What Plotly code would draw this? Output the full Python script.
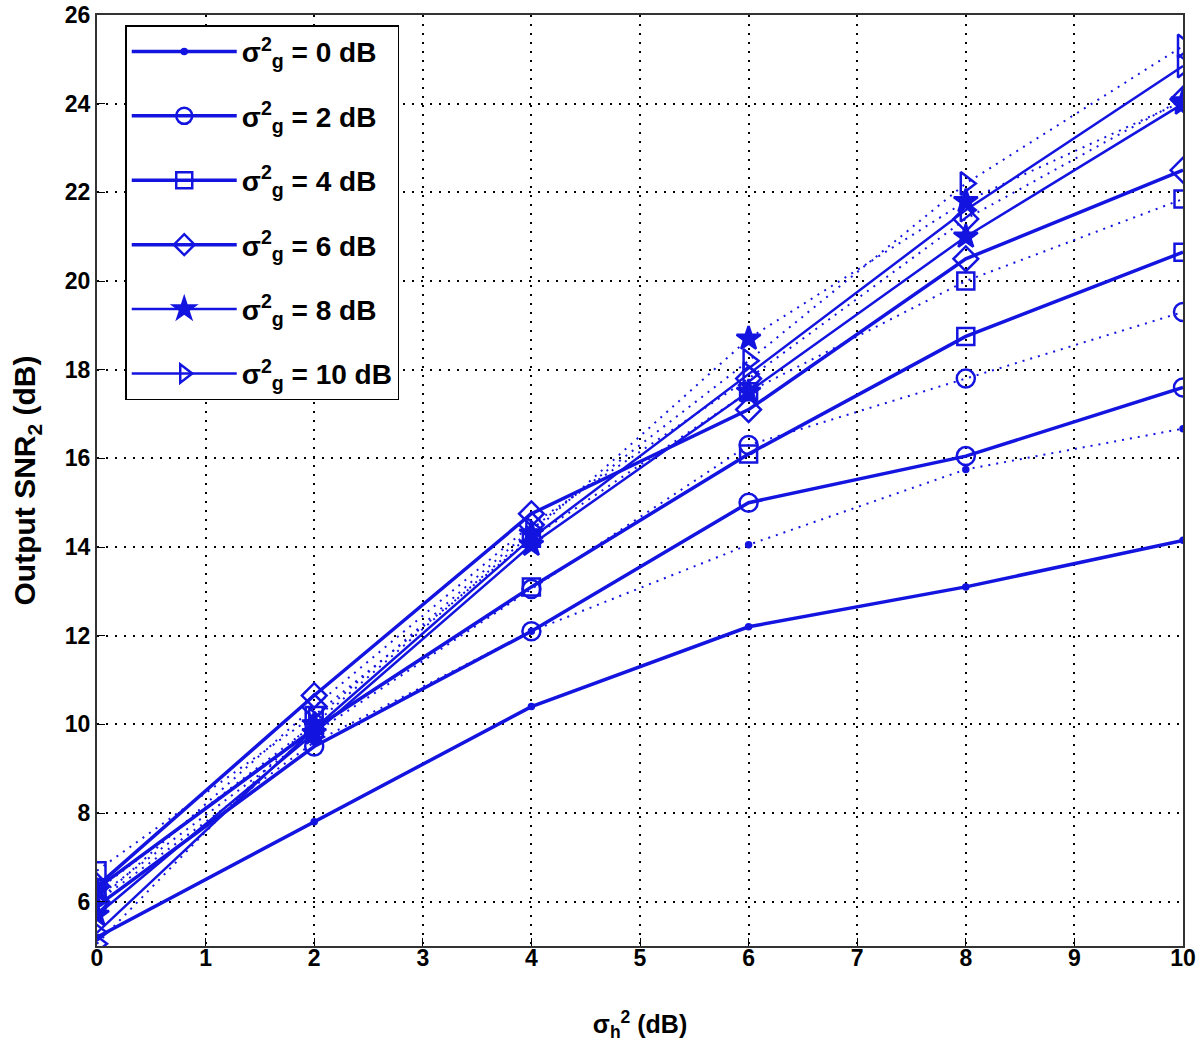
import plotly.graph_objects as go

x_vals = [0, 2, 4, 6, 8, 10]
sigma_g = [0, 2, 4, 6, 8, 10]

# solid curves
solid_0 = [5.2, 7.8, 10.4, 12.2, 13.1, 14.15]
solid_2 = [5.9, 9.5, 12.1, 15.0, 16.05, 17.6]
solid_4 = [6.3, 9.9, 13.1, 16.1, 18.75, 20.65]
solid_6 = [6.35, 10.65, 14.75, 17.1, 20.5, 22.5]
solid_8 = [5.7, 9.8, 14.05, 17.5, 21.0, 24.0]
solid_10 = [5.3, 9.9, 14.2, 17.9, 21.6, 24.85]

# dotted curves
dotted_0 = [6.0, 9.6, 12.1, 14.05, 15.75, 16.67]
dotted_2 = [6.1, 9.8, 13.05, 16.3, 17.8, 19.3]
dotted_4 = [6.7, 10.2, 14.2, 17.5, 20.0, 21.85]
dotted_6 = [6.0, 10.4, 14.5, 17.8, 21.4, 24.1]
dotted_8 = [6.25, 10.0, 14.3, 18.7, 21.8, 24.05]
dotted_10 = [5.05, 10.1, 14.4, 18.2, 22.2, 25.3]

solid = [solid_0, solid_2, solid_4, solid_6, solid_8, solid_10]
dotted = [dotted_0, dotted_2, dotted_4, dotted_6, dotted_8, dotted_10]

blue = "#1414e0"
symbols = ["circle", "circle-open", "square-open", "diamond-open", "star", "triangle-right-open"]
sizes = [5, 18, 17, 19, 18, 20]
widths = [3.5, 3.5, 3.5, 3.5, 2.5, 2.5]

fig = go.Figure()

for g, ys, sym, sz, w in zip(sigma_g, dotted, symbols, sizes, widths):
    fig.add_trace(go.Scatter(
        x=x_vals, y=ys, mode="lines+markers", showlegend=False,
        line=dict(color=blue, width=2, dash="2px,6px"),
        marker=dict(symbol=sym, size=sz, color=blue, line=dict(color=blue, width=2.5)),
    ))

for g, ys, sym, sz, w in zip(sigma_g, solid, symbols, sizes, widths):
    fig.add_trace(go.Scatter(
        x=x_vals, y=ys, mode="lines+markers", legendgroup=str(g),
        name="σ<sup>2</sup><sub>g</sub> = %d dB" % g,
        line=dict(color=blue, width=w),
        marker=dict(symbol=sym, size=sz, color=blue, line=dict(color=blue, width=2.5)),
    ))

axis_font = dict(family="Liberation Sans", size=23, color="black", weight="bold")

fig.update_xaxes(
    range=[0, 10], dtick=1, tickfont=axis_font, automargin=False,
    ticklabeloverflow="allow", ticklabelstandoff=-10,
    title=dict(text="σ<sub>h</sub><sup>2</sup> (dB)", standoff=46,
               font=dict(family="Liberation Sans", size=25, color="black", weight="bold")),
    showgrid=True, gridcolor="black", griddash="2px,7px", gridwidth=1.5,
    showline=True, linecolor="#333333", linewidth=2, mirror=True,
    ticks="inside", ticklen=8, tickcolor="black", zeroline=False,
)
fig.update_yaxes(
    range=[5, 26], tickvals=[6, 8, 10, 12, 14, 16, 18, 20, 22, 24, 26], tickfont=axis_font, automargin=False,
    ticklabeloverflow="allow",
    title=dict(text="Output SNR<sub>2</sub> (dB)", standoff=20,
               font=dict(family="Liberation Sans", size=30, color="black", weight="bold")),
    showgrid=True, gridcolor="black", griddash="2px,7px", gridwidth=1.5,
    showline=True, linecolor="#333333", linewidth=2, mirror=True,
    ticks="inside", ticklen=8, tickcolor="black", zeroline=False,
)

fig.update_layout(
    width=1200, height=1051,
    margin=dict(l=97, r=17, t=15, b=105),
    plot_bgcolor="white", paper_bgcolor="white",
    legend=dict(
        x=0.026, y=0.989, xanchor="left", yanchor="top",
        bgcolor="white", bordercolor="black", borderwidth=1.5,
        font=dict(family="Liberation Sans", size=28, color="black", weight="bold"),
        itemwidth=105, tracegroupgap=25,
    ),
)

# drop the default page margin so the figure fills the window exactly
fig.write_html("out.html", config={"displayModeBar": False},
               post_script="document.body.style.margin='0px';")
